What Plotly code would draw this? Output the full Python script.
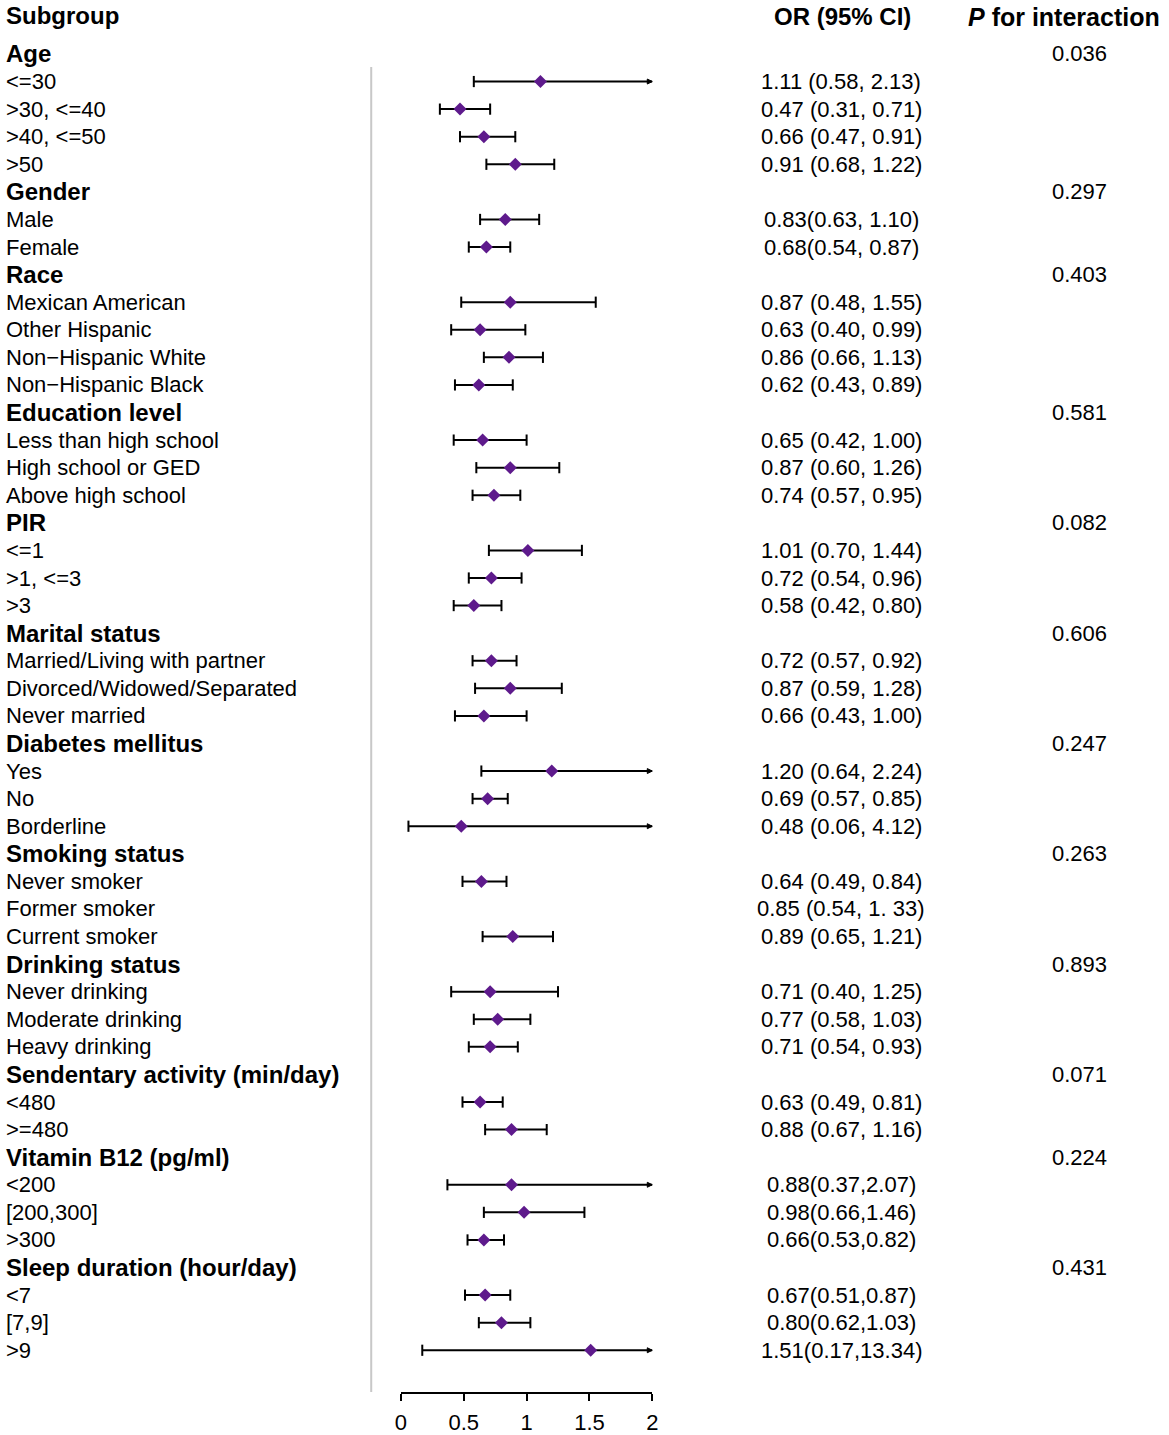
import plotly.graph_objects as go

# ---------------- data ----------------
labels = [
    "Age", "<=30", ">30, <=40", ">40, <=50", ">50",
    "Gender", "Male", "Female",
    "Race", "Mexican American", "Other Hispanic", "Non\u2212Hispanic White", "Non\u2212Hispanic Black",
    "Education level", "Less than high school", "High school or GED", "Above high school",
    "PIR", "<=1", ">1, <=3", ">3",
    "Marital status", "Married/Living with partner", "Divorced/Widowed/Separated", "Never married",
    "Diabetes mellitus", "Yes", "No", "Borderline",
    "Smoking status", "Never smoker", "Former smoker", "Current smoker",
    "Drinking status", "Never drinking", "Moderate drinking", "Heavy drinking",
    "Sendentary activity (min/day)", "<480", ">=480",
    "Vitamin B12 (pg/ml)", "<200", "[200,300]", ">300",
    "Sleep duration (hour/day)", "<7", "[7,9]", ">9",
]
is_heading = [
    1, 0, 0, 0, 0,
    1, 0, 0,
    1, 0, 0, 0, 0,
    1, 0, 0, 0,
    1, 0, 0, 0,
    1, 0, 0, 0,
    1, 0, 0, 0,
    1, 0, 0, 0,
    1, 0, 0, 0,
    1, 0, 0,
    1, 0, 0, 0,
    1, 0, 0, 0,
]
or_text = [
    "", "1.11 (0.58, 2.13)", "0.47 (0.31, 0.71)", "0.66 (0.47, 0.91)", "0.91 (0.68, 1.22)",
    "", "0.83(0.63, 1.10)", "0.68(0.54, 0.87)",
    "", "0.87 (0.48, 1.55)", "0.63 (0.40, 0.99)", "0.86 (0.66, 1.13)", "0.62 (0.43, 0.89)",
    "", "0.65 (0.42, 1.00)", "0.87 (0.60, 1.26)", "0.74 (0.57, 0.95)",
    "", "1.01 (0.70, 1.44)", "0.72 (0.54, 0.96)", "0.58 (0.42, 0.80)",
    "", "0.72 (0.57, 0.92)", "0.87 (0.59, 1.28)", "0.66 (0.43, 1.00)",
    "", "1.20 (0.64, 2.24)", "0.69 (0.57, 0.85)", "0.48 (0.06, 4.12)",
    "", "0.64 (0.49, 0.84)", "0.85 (0.54, 1. 33)", "0.89 (0.65, 1.21)",
    "", "0.71 (0.40, 1.25)", "0.77 (0.58, 1.03)", "0.71 (0.54, 0.93)",
    "", "0.63 (0.49, 0.81)", "0.88 (0.67, 1.16)",
    "", "0.88(0.37,2.07)", "0.98(0.66,1.46)", "0.66(0.53,0.82)",
    "", "0.67(0.51,0.87)", "0.80(0.62,1.03)", "1.51(0.17,13.34)",
]
p_text = [
    "0.036", "", "", "", "",
    "0.297", "", "",
    "0.403", "", "", "", "",
    "0.581", "", "", "",
    "0.082", "", "", "",
    "0.606", "", "", "",
    "0.247", "", "", "",
    "0.263", "", "", "",
    "0.893", "", "", "",
    "0.071", "", "",
    "0.224", "", "", "",
    "0.431", "", "", "",
]
# plotted estimates (None = no mark drawn; "Former smoker" has no mark in the source)
est = [
    None, 1.11, 0.47, 0.66, 0.91,
    None, 0.83, 0.68,
    None, 0.87, 0.63, 0.86, 0.62,
    None, 0.65, 0.87, 0.74,
    None, 1.01, 0.72, 0.58,
    None, 0.72, 0.87, 0.66,
    None, 1.20, 0.69, 0.48,
    None, 0.64, None, 0.89,
    None, 0.71, 0.77, 0.71,
    None, 0.63, 0.88,
    None, 0.88, 0.98, 0.66,
    None, 0.67, 0.80, 1.51,
]
lower = [
    None, 0.58, 0.31, 0.47, 0.68,
    None, 0.63, 0.54,
    None, 0.48, 0.40, 0.66, 0.43,
    None, 0.42, 0.60, 0.57,
    None, 0.70, 0.54, 0.42,
    None, 0.57, 0.59, 0.43,
    None, 0.64, 0.57, 0.06,
    None, 0.49, None, 0.65,
    None, 0.40, 0.58, 0.54,
    None, 0.49, 0.67,
    None, 0.37, 0.66, 0.53,
    None, 0.51, 0.62, 0.17,
]
upper = [
    None, 2.13, 0.71, 0.91, 1.22,
    None, 1.10, 0.87,
    None, 1.55, 0.99, 1.13, 0.89,
    None, 1.00, 1.26, 0.95,
    None, 1.44, 0.96, 0.80,
    None, 0.92, 1.28, 1.00,
    None, 2.24, 0.85, 4.12,
    None, 0.84, None, 1.21,
    None, 1.25, 1.03, 0.93,
    None, 0.81, 1.16,
    None, 2.07, 1.46, 0.82,
    None, 0.87, 1.03, 13.34,
]
x_ticks = [0, 0.5, 1, 1.5, 2]
x_ticktext = ["0", "0.5", "1", "1.5", "2"]
x_max = 2

# ---------------- layout constants ----------------
W, H = 1169, 1435
ROW0, ROWH = 54.0, 27.6      # pixel centre of first row, row height
FONT = "Liberation Sans, Arial, sans-serif"
PURPLE = "#5E1A8C"

def px(xw):   # pixel -> paper fraction
    return xw / W

def py(yw):   # pixel (from top) -> paper fraction
    return 1 - yw / H

ymin = -ROW0 / ROWH
ymax = ymin + H / ROWH

rows = list(range(len(labels)))

# ---------------- marks ----------------
wx, wy = [], []
capx, capy = [], []
arrx, arry = [], []
dx, dy = [], []
for i in rows:
    if est[i] is None:
        continue
    hi = min(upper[i], x_max)
    wx += [lower[i], hi, None]
    wy += [i, i, None]
    capx.append(lower[i]); capy.append(i)
    if upper[i] > x_max:
        arrx.append(x_max); arry.append(i)
    else:
        capx.append(upper[i]); capy.append(i)
    dx.append(est[i]); dy.append(i)

fig = go.Figure()
fig.add_trace(go.Scatter(x=wx, y=wy, mode="lines",
                         line=dict(color="black", width=2),
                         cliponaxis=False, hoverinfo="skip", showlegend=False))
fig.add_trace(go.Scatter(x=capx, y=capy, mode="markers",
                         marker=dict(symbol="line-ns", size=8,
                                     line=dict(color="black", width=2)),
                         cliponaxis=False, hoverinfo="skip", showlegend=False))
fig.add_trace(go.Scatter(x=arrx, y=arry, mode="markers",
                         marker=dict(symbol="arrow-right", size=5, color="black",
                                     line=dict(color="black", width=1)),
                         cliponaxis=False, hoverinfo="skip", showlegend=False))
fig.add_trace(go.Scatter(x=dx, y=dy, mode="markers",
                         marker=dict(symbol="diamond", size=10, color=PURPLE,
                                     line=dict(width=0)),
                         cliponaxis=False, hoverinfo="skip", showlegend=False))

# ---------------- text ----------------
ann = []
def add_text(text, xw, row, anchor, size, bold=False):
    ann.append(dict(
        text=f"<b>{text}</b>" if bold else text,
        x=px(xw), xref="paper", y=row, yref="y",
        xanchor=anchor, yanchor="middle", showarrow=False,
        font=dict(family=FONT, size=size, color="black"),
    ))

LABEL_X = -2
OR_X = 844
P_X = 1085
hdr_row = (16 - ROW0) / ROWH
hdr_row2 = (17 - ROW0) / ROWH
add_text("Subgroup", LABEL_X, hdr_row, "left", 24, True)
add_text("OR (95% CI)", 845, hdr_row2, "center", 24, True)
add_text("<i>P</i> for interaction", 1069, hdr_row2, "center", 25, True)

for i in rows:
    if is_heading[i]:
        add_text(labels[i], LABEL_X, i, "left", 24, True)
    else:
        add_text(labels[i], LABEL_X, i, "left", 22)
    if or_text[i]:
        add_text(or_text[i], OR_X, i, "center", 22)
    if p_text[i]:
        add_text(p_text[i], P_X, i, "center", 22)

# separator line
shapes = [dict(type="line", xref="paper", yref="paper",
               x0=px(369), x1=px(369), y0=py(67), y1=py(1393),
               line=dict(color="#c8c8c8", width=2))]

fig.update_layout(
    width=W, height=H,
    margin=dict(l=0, r=0, t=0, b=0),
    paper_bgcolor="white", plot_bgcolor="white",
    annotations=ann, shapes=shapes,
    xaxis=dict(domain=[px(399), px(653)], range=[0, x_max],
               anchor="free", position=py(1394),
               showgrid=False, zeroline=False,
               showline=True, linecolor="black", linewidth=2,
               ticks="outside", ticklen=7, tickwidth=2, tickcolor="black",
               tickvals=x_ticks, ticktext=x_ticktext,
               tickfont=dict(family=FONT, size=22, color="black"),
               ticklabelstandoff=3, fixedrange=True),
    yaxis=dict(domain=[0, 1], range=[ymax, ymin], visible=False,
               showgrid=False, zeroline=False, fixedrange=True),
    showlegend=False,
)

fig.write_html(
    "out.html",
    config={"displayModeBar": False},
    post_script=("document.documentElement.style.margin='0';"
                 "document.body.style.margin='0';"
                 "document.body.style.overflow='hidden';"),
)
